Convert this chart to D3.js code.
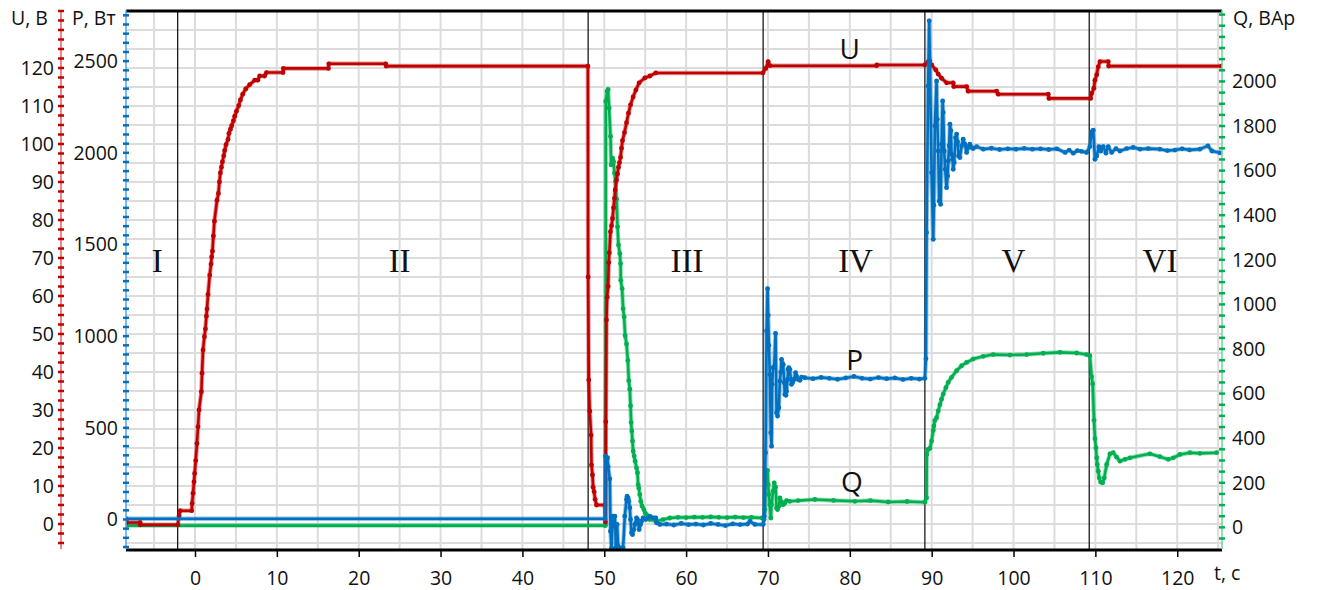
<!DOCTYPE html>
<html>
<head>
<meta charset="utf-8">
<script src="https://cdn.jsdelivr.net/npm/d3@7"></script>
<style>
body { margin: 0; background: #fff; }
text { font-family: "Open Sans", sans-serif; fill: #111; }
</style>
</head>
<body>
<svg id="chart" width="1318" height="590"></svg>
<script>
// U (V) vs t (s)
const uData = [
  [-8.4,0.4],[-6.7,0.4],[-6.7,-0.2],[-2.1,-0.2],[-1.95,2.1],[-1.8,3.5],[-0.4,3.5],
  [-0.35,5.4],[-0.24,8.1],[-0.12,11.1],[-0.04,13.3],[0.09,16.7],[0.24,21.2],[0.37,25.6],[0.49,30],[0.78,34.8],
  [0.86,39.7],[0.98,45.8],[1.15,49.3],[1.27,51.3],[1.39,54.7],[1.47,56.6],[1.59,60.4],[1.8,65.5],[1.96,68.4],
  [2.04,70.3],[2.13,71.8],[2.25,75.8],[2.37,79.7],[2.69,85.2],[2.86,87],[2.98,90],[3.1,92.4],[3.23,93.9],
  [3.35,95.3],[3.51,96.9],[3.63,98.3],[3.79,99.8],[4.03,101.2],[4.15,102.8],[4.33,103.9],[4.48,104.8],
  [4.69,106.1],[4.85,107.3],[5.06,108.6],[5.34,110.1],[5.55,111.6],[5.83,113.1],[6.2,114.5],[6.68,115.6],
  [7.3,116.8],[7.67,116.8],[7.9,117.9],[8.5,117.9],[8.73,118.8],[10.75,118.8],[10.8,119.9],[16.3,119.9],
  [16.35,121.1],[23.3,121.1],[23.35,120.5],[48.0,120.5],
  [48.03,65],[48.11,37.9],[48.23,29.7],[48.39,23.4],[48.44,15.5],[48.56,12.9],[48.64,9.7],[48.76,8.5],
  [48.88,6.5],[49.05,5],[50.07,5],[50.15,0.5],[50.19,26.9],[50.27,53.7],[50.35,59.7],[50.47,62.5],[50.55,68.8],
  [50.62,71.4],[50.76,76.9],[50.89,78.5],[51.01,80.4],[51.13,83.2],[51.25,85.7],[51.33,87.9],[51.5,90.5],
  [51.62,92.1],[51.74,93.9],[51.86,95.1],[51.99,96.5],[52.11,98.9],[52.23,100.9],[52.47,103],[52.72,105.6],
  [52.96,108.1],[53.21,110.3],[53.53,112.4],[53.86,114.2],[54.26,116.1],[54.96,117.4],[55.57,117.9],
  [56.3,118.7],[69.38,118.7],
  [69.74,119.9],[70.02,121.7],[70.23,120.6],[83.27,120.6],[83.3,120.8],[89.17,120.8],[89.58,121.7],[90,120.8],
  [90.5,119.5],[90.8,118.4],[91.21,117.3],[91.83,116.1],[92.63,116.1],[92.7,115.1],[94.27,115.1],[94.46,113.9],
  [97.93,113.9],[98.13,113.1],[104.24,113.1],[104.33,112],[109.42,112],[109.54,113.3],[109.82,114.7],
  [109.95,116.8],[110.16,118.2],[110.35,120.3],[110.56,121.7],[111.57,121.7],[111.62,120.5],[125.4,120.5]
];

// P (W) vs t (s)
const pData = [
  [-8.4,4],[50.1,4],[50.15,346],[50.4,337],[50.47,288],[50.68,222],[50.76,-64],[50.88,-155],[51.08,18],
  [51.29,18],[51.35,-37],[51.41,-155],[51.57,-27],[51.69,-146],[52.11,-155],[52.3,-155],[52.51,18],[52.72,109],
  [52.79,127],[52.91,118],[53.0,100],[53.12,64],[53.21,0],[53.33,-73],[53.45,-82],[53.61,-55],[53.73,-27],
  [53.94,9],[54.06,0],[54.26,-55],[54.43,-27],[54.55,-9],[54.75,9],[55.08,0],[55.36,9],[55.57,18],[55.97,9],
  [56.3,9],[56.38,-18],[56.79,-27],[57.6,-25],[58.5,-30],[59.4,-22],[60.3,-28],[61.2,-25],[62.1,-30],[63,-22],
  [63.9,-27],[64.8,-33],[65.7,-24],[66.6,-28],[67.5,-25],[67.8,-10],[68.4,-27],[69.41,-27],
  [69.54,18],[69.7,364],[69.83,1028],[69.95,1259],[70.02,1114],[70.11,950],[70.23,791],[70.35,473],[70.44,400],
  [70.51,737],[70.63,828],[70.76,833],[70.93,1015],[71.05,582],[71.17,564],[71.33,610],[71.45,755],[71.57,804],
  [71.66,873],[71.86,846],[71.98,746],[72.06,682],[72.19,677],[72.27,700],[72.39,764],[72.47,819],[72.55,828],
  [72.67,819],[72.8,764],[72.88,737],[73,746],[73.2,764],[73.37,801],[73.49,782],[73.69,764],[73.9,759],
  [74.1,777],[74.51,773],[75.5,768],[76.5,775],[77.5,770],[78.5,765],[79.5,772],[80.5,780],[81.5,770],
  [82.5,766],[83.5,774],[84.5,768],[85.5,772],[86.5,764],[87.5,770],[88.5,766],[89.17,770],
  [89.3,877],[89.38,1565],[89.57,2365],[89.7,2720],[89.78,2502],[89.99,1892],[90.19,1528],[90.27,1714],
  [90.39,2147],[90.6,2392],[90.68,2183],[90.8,2010],[90.92,1737],[91.09,1719],[91.21,2047],[91.34,2283],
  [91.41,2220],[91.53,2010],[91.65,1910],[91.82,1810],[91.95,1874],[92.02,1956],[92.14,2038],[92.23,2156],
  [92.35,2120],[92.43,1992],[92.56,1965],[92.63,1910],[92.75,1947],[92.92,2083],[93.05,2102],[93.17,2059],
  [93.29,1983],[93.45,1974],[93.66,2038],[93.85,2074],[94.06,2047],[94.27,2002],[94.46,2029],[94.67,2047],
  [94.88,2029],[95.07,2023],[95.49,2034],[96.3,2020],[97.3,2025],[98.3,2018],[99.3,2022],[100.3,2020],
  [101.3,2024],[102.3,2020],[103.3,2022],[104.3,2018],[105.3,2022],[106.3,2002],[106.8,2015],[107.3,1998],
  [107.8,2012],[108.3,2008],[108.93,2002],[109.33,2034],[109.54,2114],[109.74,2123],[109.95,1965],
  [110.16,1983],[110.44,2034],[110.68,2010],[110.96,2034],[111.29,1998],[111.57,2034],[111.99,2002],
  [112.51,2023],[113,2010],[113.82,2023],[114.63,2029],[115.45,2020],[116.46,2023],[117.88,2020],[118.8,2012],
  [119.72,2015],[120.6,2022],[121.5,2016],[122.77,2020],[123.75,2038],[124.24,2010],[125.22,2000]
];

// Q (VAr) vs t (s)
const qData = [
  [-8.4,8],[50.1,8],[50.15,9],[50.19,1911],[50.35,1956],[50.47,1964],[50.59,1881],[50.76,1754],[50.84,1626],
  [51.01,1656],[51.13,1641],[51.25,1589],[51.37,1551],[51.5,1472],[51.62,1348],[51.74,1266],[51.9,1228],
  [51.99,1183],[52.02,1108],[52.18,1071],[52.3,981],[52.43,943],[52.55,860],[52.72,823],[52.88,748],[53,658],
  [53.12,620],[53.21,545],[53.28,470],[53.37,432],[53.45,387],[53.53,342],[53.65,320],[53.77,297],[53.94,267],
  [54.06,245],[54.14,192],[54.22,177],[54.34,147],[54.47,117],[54.63,95],[54.84,80],[55,64],[55.16,57],
  [55.57,35],[56.38,27],[57.19,35],[58.01,42],[59,45],[60,44],[61,46],[62,45],[63,47],[64,45],[65,44],
  [66,46],[67,44],[68,45],[69.29,42],
  [69.53,35],[69.62,80],[69.7,192],[69.83,252],[69.95,255],[70.02,192],[70.11,147],[70.23,102],[70.35,42],
  [70.44,102],[70.63,162],[70.76,200],[70.93,180],[71.05,87],[71.17,80],[71.33,95],[71.45,132],[71.66,114],
  [71.86,102],[72.06,109],[72.27,120],[72.67,117],[73.69,120],[75.73,125],[78,121],[80.62,117],[82.5,120],
  [84.69,114],[87,116],[89.17,113],
  [89.38,132],[89.4,327],[89.57,350],[89.78,354],[89.99,387],[90.19,435],[90.27,455],[90.39,480],[90.6,492],
  [90.8,522],[91.01,550],[91.21,575],[91.41,598],[91.74,627],[92.02,650],[92.43,673],[93.05,703],[93.66,725],
  [94.27,740],[95.07,755],[96.3,767],[97.52,775],[99.56,773],[101.6,775],[103.63,781],[105.67,785],
  [107.71,782],[108.93,775],[109.33,770],[109.54,676],[109.67,643],[109.83,480],[109.95,398],[110.07,357],
  [110.16,312],[110.23,282],[110.35,252],[110.47,222],[110.64,203],[110.89,200],[111.08,222],[111.38,282],
  [111.78,330],[112.18,335],[112.6,315],[113,297],[113.61,305],[114.22,312],[116.66,330],[117.88,317],
  [118.9,305],[119.52,312],[120.33,327],[121.55,335],[122.77,332],[124.82,335]
];

const tTicks = [0, 10, 20, 30, 40, 50, 60, 70, 80, 90, 100, 110, 120];
const uTicks = [0, 10, 20, 30, 40, 50, 60, 70, 80, 90, 100, 110, 120];
const pTicks = [0, 500, 1000, 1500, 2000, 2500];
const qTicks = [0, 200, 400, 600, 800, 1000, 1200, 1400, 1600, 1800, 2000];

const stageBounds = [-2.12, 48.03, 69.41, 89.17, 109.25];
const stageNames = ["I", "II", "III", "IV", "V", "VI"];
const stageLabelT = [-4.6, 25.0, 60.1, 80.7, 100.0, 117.9];

const plotL = 126, plotR = 1222, plotT = 11, plotB = 549;
const red = "#C00000", blue = "#0070C0", green = "#00B050";
const fmt = d3.format("d");

const svg = d3.select("#chart");

const x = d3.scaleLinear().domain([-8.43, 125.47]).range([plotL, plotR]);
const yU = d3.scaleLinear().domain([-6.58, 135]).range([plotB, plotT]);
const yP = d3.scaleLinear().domain([-161, 2773.6]).range([plotB, plotT]);
const yQ = d3.scaleLinear().domain([-97, 2316]).range([plotB, plotT]);

svg.append("defs").append("clipPath").attr("id", "plot")
    .append("rect").attr("x", plotL).attr("y", plotT).attr("width", plotR - plotL).attr("height", plotB - plotT);

// grid
const grid = svg.append("g").attr("stroke", "#dcdcdc").attr("stroke-width", 2);
grid.selectAll(".vg").data(d3.range(-5, 126, 5)).join("line").attr("class", "vg")
    .attr("x1", d => x(d)).attr("x2", d => x(d)).attr("y1", plotT).attr("y2", plotB);
grid.selectAll(".hg").data(d3.range(-5, 136, 5)).join("line").attr("class", "hg")
    .attr("x1", plotL).attr("x2", plotR).attr("y1", d => yU(d)).attr("y2", d => yU(d));

// stage dividers
svg.append("g").selectAll("line").data(stageBounds).join("line")
    .attr("x1", d => x(d)).attr("x2", d => x(d)).attr("y1", plotT).attr("y2", plotB)
    .attr("stroke", "#1a1a1a").attr("stroke-width", 1.3);

svg.append("g").selectAll("text").data(stageNames).join("text")
    .attr("x", (d, i) => x(stageLabelT[i])).attr("y", 260).attr("dy", "0.35em")
    .attr("text-anchor", "middle")
    .style("font-family", "'Liberation Serif', 'Times New Roman', serif").style("font-size", "33px")
    .text(d => d);

// series
function drawSeries(data, y, color) {
    const g = svg.append("g").attr("clip-path", "url(#plot)");
    const line = d3.line().x(d => x(d[0])).y(d => y(d[1]));
    g.append("path").datum(data).attr("d", line)
        .attr("fill", "none").attr("stroke", color).attr("stroke-width", 4.5).attr("stroke-opacity", 0.4)
        .attr("stroke-linejoin", "round");
    g.append("path").datum(data).attr("d", line)
        .attr("fill", "none").attr("stroke", color).attr("stroke-width", 2.6)
        .attr("stroke-linejoin", "round");
    g.selectAll("circle").data(data).join("circle")
        .attr("cx", d => x(d[0])).attr("cy", d => y(d[1])).attr("r", 2.4).attr("fill", color);
}
drawSeries(qData, yQ, green);
drawSeries(uData, yU, red);
drawSeries(pData, yP, blue);

// frame: top border and time axis
svg.append("line").attr("x1", plotL).attr("x2", plotR).attr("y1", plotT).attr("y2", plotT)
    .attr("stroke", "#000").attr("stroke-width", 3);

const xAxis = svg.append("g").attr("transform", "translate(0," + (plotB + 1) + ")")
    .call(d3.axisBottom(x).tickValues(tTicks).tickFormat(fmt).tickSize(7).tickPadding(14));
xAxis.select(".domain").attr("stroke-width", 3).attr("d", "M" + plotL + ",0H" + plotR);
xAxis.selectAll(".tick line").attr("stroke-width", 1.5);
xAxis.selectAll("text").style("font-size", "19.5px").style("font-family", "'Open Sans', sans-serif");

// value axes with cross ticks
function valueAxis(xPos, y, minor, color, lineColor) {
    const g = svg.append("g");
    g.append("line").attr("x1", xPos).attr("x2", xPos).attr("y1", plotT - 1).attr("y2", plotB)
        .attr("stroke", lineColor).attr("stroke-width", 1.5);
    g.selectAll(".mt").data(minor).join("line")
        .attr("x1", xPos - 3).attr("x2", xPos + 3).attr("y1", d => y(d)).attr("y2", d => y(d))
        .attr("stroke", color).attr("stroke-width", 2.5);
}
valueAxis(61, yU, d3.range(-5, 135.1, 2.5), red, "#e06060");
valueAxis(plotL, yP, d3.range(-150, 2751, 50), blue, "#5aa0dc");
valueAxis(plotR, yQ, d3.range(-50, 2301, 50), green, "#70d498");

function labels(axis, xPos) {
    const g = svg.append("g").attr("transform", "translate(" + xPos + ",0)").call(axis);
    g.select(".domain").remove();
    g.selectAll(".tick line").remove();
    g.selectAll("text").style("font-size", "19.5px").style("font-family", "'Open Sans', sans-serif");
}
labels(d3.axisLeft(yU).tickValues(uTicks).tickFormat(fmt).tickSize(0).tickPadding(7), 61);
labels(d3.axisLeft(yP).tickValues(pTicks).tickFormat(fmt).tickSize(0).tickPadding(8), plotL);
labels(d3.axisRight(yQ).tickValues(qTicks).tickFormat(fmt).tickSize(0).tickPadding(10), plotR);

// axis titles
svg.append("text").text("U, В").attr("x", 11).attr("y", 18).attr("dy", "0.35em").style("font-size", "19.5px");
svg.append("text").text("P, Вт").attr("x", 72).attr("y", 18).attr("dy", "0.35em").style("font-size", "19.5px");
svg.append("text").text("Q, ВАр").attr("x", 1233).attr("y", 18).attr("dy", "0.35em").style("font-size", "19.5px");
svg.append("text").text("t, с").attr("x", 1214).attr("y", 573).attr("dy", "0.35em").style("font-size", "19.5px");

// series names
svg.append("text").text("U").attr("x", x(80)).attr("y", yU(125)).attr("dy", "0.35em")
    .attr("text-anchor", "middle").style("font-size", "28px");
svg.append("text").text("P").attr("x", x(80.6)).attr("y", yP(870)).attr("dy", "0.35em")
    .attr("text-anchor", "middle").style("font-size", "28px");
svg.append("text").text("Q").attr("x", x(80.25)).attr("y", yQ(204)).attr("dy", "0.35em")
    .attr("text-anchor", "middle").style("font-size", "28px");
</script>
</body>
</html>
